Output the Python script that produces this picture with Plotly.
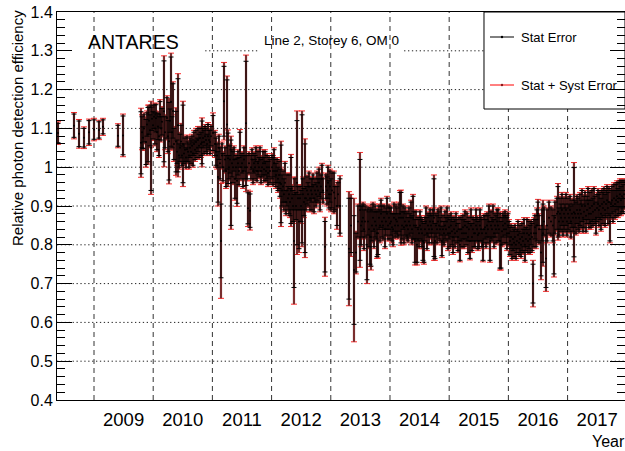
import plotly.graph_objects as go

# ---------------- data (decimal year, relative efficiency, stat error, stat+syst error) -------------
YR_A = [2008.392, 2008.662, 2008.747, 2008.831, 2008.916, 2009.000, 2009.084, 2009.152, 2009.405, 2009.490]
EFF_A = [1.088, 1.107, 1.086, 1.076, 1.090, 1.097, 1.096, 1.104, 1.081, 1.082]
STAT_A = [0.025, 0.030, 0.033, 0.024, 0.030, 0.025, 0.021, 0.018, 0.027, 0.050]
TOT_A = [0.029, 0.034, 0.037, 0.028, 0.034, 0.029, 0.025, 0.022, 0.031, 0.055]

YR_B = [2009.794, 2009.811, 2009.828, 2009.845, 2009.878, 2009.895, 2009.912, 2009.929, 2009.946, 2009.963,
        2009.980, 2009.997, 2010.014, 2010.031, 2010.047, 2010.064, 2010.081, 2010.098, 2010.115, 2010.132,
        2010.149, 2010.182, 2010.199, 2010.233, 2010.250, 2010.267, 2010.284, 2010.301, 2010.318, 2010.334,
        2010.351, 2010.385, 2010.402, 2010.419, 2010.436, 2010.453, 2010.470, 2010.486, 2010.503, 2010.520,
        2010.537, 2010.554, 2010.571, 2010.588, 2010.605, 2010.622, 2010.639, 2010.656, 2010.672, 2010.689,
        2010.706, 2010.723, 2010.740, 2010.757, 2010.774, 2010.791, 2010.808, 2010.824, 2010.841, 2010.858,
        2010.875, 2010.892, 2010.909, 2010.926, 2010.943, 2010.959, 2010.976, 2011.010]
EFF_B = [1.063, 1.090, 1.076, 1.100, 1.065, 1.110, 1.084, 1.120, 1.095, 1.050,
         1.125, 1.108, 1.130, 1.100, 1.126, 1.090, 1.105, 1.080, 1.135, 1.100,
         1.117, 1.144, 1.090, 1.127, 1.080, 1.067, 1.120, 1.169, 1.090, 1.145,
         1.060, 1.066, 1.040, 1.108, 1.030, 1.050, 1.066, 1.030, 1.060, 1.035,
         1.045, 1.025, 1.046, 1.040, 1.030, 1.050, 1.040, 1.055, 1.035, 1.060,
         1.045, 1.065, 1.050, 1.070, 1.055, 1.075, 1.060, 1.064, 1.075, 1.065,
         1.080, 1.070, 1.060, 1.080, 1.070, 1.065, 1.080, 1.088]
STAT_B = [0.080, 0.040, 0.028, 0.035, 0.058, 0.030, 0.070, 0.035, 0.040, 0.110,
          0.030, 0.035, 0.030, 0.040, 0.035, 0.045, 0.034, 0.050, 0.034, 0.030,
          0.034, 0.130, 0.040, 0.052, 0.040, 0.100, 0.030, 0.115, 0.040, 0.070,
          0.040, 0.078, 0.030, 0.120, 0.030, 0.035, 0.042, 0.025, 0.100, 0.025,
          0.030, 0.025, 0.032, 0.025, 0.030, 0.025, 0.030, 0.025, 0.030, 0.030,
          0.025, 0.030, 0.025, 0.030, 0.030, 0.025, 0.030, 0.055, 0.025, 0.030,
          0.025, 0.030, 0.025, 0.030, 0.025, 0.030, 0.025, 0.045]
TOT_B = [0.089, 0.045, 0.033, 0.040, 0.065, 0.035, 0.076, 0.040, 0.045, 0.120,
         0.035, 0.039, 0.035, 0.045, 0.039, 0.050, 0.039, 0.055, 0.039, 0.035,
         0.039, 0.143, 0.045, 0.057, 0.045, 0.110, 0.035, 0.125, 0.045, 0.075,
         0.045, 0.087, 0.035, 0.133, 0.035, 0.040, 0.047, 0.030, 0.110, 0.030,
         0.035, 0.030, 0.037, 0.030, 0.035, 0.030, 0.035, 0.030, 0.035, 0.035,
         0.030, 0.035, 0.030, 0.035, 0.035, 0.030, 0.035, 0.063, 0.030, 0.035,
         0.030, 0.035, 0.030, 0.035, 0.030, 0.035, 0.030, 0.052]

YR_C = [2011.044, 2011.061, 2011.078, 2011.095, 2011.111, 2011.128, 2011.145, 2011.162, 2011.179, 2011.196,
        2011.213, 2011.230, 2011.247, 2011.264, 2011.280, 2011.297, 2011.314, 2011.331, 2011.348, 2011.365,
        2011.382, 2011.399, 2011.416, 2011.432, 2011.449, 2011.466, 2011.483, 2011.500, 2011.517, 2011.534,
        2011.551, 2011.568, 2011.584, 2011.601, 2011.618, 2011.635, 2011.652, 2011.669, 2011.686, 2011.703,
        2011.720, 2011.736, 2011.753, 2011.770, 2011.787, 2011.804, 2011.821, 2011.838, 2011.855, 2011.872,
        2011.889, 2011.905, 2011.922, 2011.939, 2011.956, 2011.973]
EFF_C = [1.060, 1.040, 1.030, 0.975, 1.050, 1.010, 0.810, 1.030, 1.000, 1.170,
         1.020, 0.990, 1.110, 1.023, 1.000, 1.020, 0.960, 1.010, 1.000, 1.020,
         0.970, 1.000, 0.965, 1.010, 0.990, 1.045, 1.000, 1.010, 0.990, 1.020,
         1.000, 1.113, 1.000, 0.894, 1.010, 0.888, 1.000, 1.020, 0.990, 1.010,
         1.000, 1.020, 0.990, 1.010, 1.000, 1.020, 0.990, 1.000, 1.010, 0.995,
         1.010, 0.990, 1.000, 0.985, 1.000, 0.990]
STAT_C = [0.030, 0.035, 0.030, 0.065, 0.030, 0.040, 0.095, 0.030, 0.035, 0.090,
          0.030, 0.040, 0.115, 0.065, 0.030, 0.035, 0.110, 0.035, 0.040, 0.030,
          0.050, 0.030, 0.058, 0.030, 0.035, 0.045, 0.030, 0.025, 0.040, 0.030,
          0.030, 0.160, 0.030, 0.040, 0.025, 0.043, 0.030, 0.025, 0.030, 0.025,
          0.030, 0.030, 0.025, 0.030, 0.025, 0.030, 0.030, 0.025, 0.030, 0.030,
          0.030, 0.025, 0.030, 0.030, 0.025, 0.030]
TOT_C = [0.035, 0.040, 0.035, 0.075, 0.035, 0.045, 0.148, 0.035, 0.040, 0.100,
         0.035, 0.045, 0.125, 0.073, 0.035, 0.040, 0.120, 0.040, 0.045, 0.035,
         0.055, 0.035, 0.066, 0.035, 0.040, 0.052, 0.035, 0.030, 0.045, 0.035,
         0.035, 0.176, 0.035, 0.047, 0.030, 0.050, 0.035, 0.030, 0.035, 0.030,
         0.035, 0.035, 0.030, 0.035, 0.030, 0.035, 0.035, 0.030, 0.035, 0.035,
         0.035, 0.030, 0.035, 0.035, 0.030, 0.035]

YR_D = [2012.007, 2012.024, 2012.041, 2012.058, 2012.074, 2012.091, 2012.108, 2012.125, 2012.142, 2012.159,
        2012.176, 2012.193, 2012.209, 2012.226, 2012.243, 2012.260, 2012.277, 2012.294, 2012.311, 2012.328,
        2012.345, 2012.362, 2012.378, 2012.395, 2012.412, 2012.429, 2012.446, 2012.463, 2012.480, 2012.497,
        2012.514, 2012.530, 2012.547, 2012.564, 2012.581, 2012.598, 2012.615, 2012.632, 2012.649, 2012.666,
        2012.682, 2012.699, 2012.716, 2012.733, 2012.750, 2012.767, 2012.784, 2012.801, 2012.818, 2012.834,
        2012.851, 2012.868, 2012.902, 2012.919, 2012.936, 2012.953, 2012.970, 2012.986, 2013.003, 2013.020,
        2013.054, 2013.071, 2013.105, 2013.122, 2013.155]
EFF_D = [1.000, 0.990, 1.010, 0.990, 0.980, 0.990, 0.970, 0.980, 0.960, 0.957,
         0.940, 0.950, 0.930, 0.960, 0.910, 0.940, 0.920, 0.930, 0.910, 0.940,
         0.920, 0.900, 0.810, 0.930, 0.900, 0.960, 0.920, 0.860, 0.920, 0.900,
         0.970, 0.930, 0.910, 0.920, 0.920, 0.940, 0.930, 0.950, 0.920, 0.940,
         0.930, 0.950, 0.920, 0.940, 0.930, 0.950, 0.940, 0.960, 0.930, 0.950,
         0.970, 0.940, 0.795, 0.950, 0.940, 0.960, 0.930, 0.950, 0.930, 0.940,
         0.935, 0.920, 0.900, 0.930, 0.900]
STAT_D = [0.030, 0.035, 0.035, 0.030, 0.030, 0.030, 0.030, 0.035, 0.035, 0.100,
          0.040, 0.040, 0.040, 0.050, 0.030, 0.040, 0.030, 0.050, 0.035, 0.085,
          0.030, 0.040, 0.120, 0.040, 0.035, 0.160, 0.030, 0.070, 0.030, 0.040,
          0.165, 0.040, 0.035, 0.140, 0.030, 0.035, 0.030, 0.035, 0.030, 0.030,
          0.040, 0.030, 0.035, 0.030, 0.030, 0.035, 0.030, 0.035, 0.040, 0.030,
          0.035, 0.030, 0.065, 0.030, 0.035, 0.040, 0.035, 0.040, 0.040, 0.045,
          0.050, 0.030, 0.050, 0.030, 0.070]
TOT_D = [0.035, 0.040, 0.040, 0.035, 0.035, 0.035, 0.035, 0.040, 0.040, 0.110,
         0.045, 0.045, 0.045, 0.055, 0.035, 0.045, 0.035, 0.055, 0.040, 0.093,
         0.035, 0.045, 0.163, 0.045, 0.040, 0.185, 0.035, 0.080, 0.035, 0.045,
         0.175, 0.045, 0.040, 0.153, 0.035, 0.040, 0.035, 0.040, 0.035, 0.035,
         0.045, 0.035, 0.040, 0.035, 0.035, 0.040, 0.035, 0.040, 0.045, 0.035,
         0.040, 0.035, 0.076, 0.035, 0.040, 0.045, 0.040, 0.045, 0.045, 0.050,
         0.055, 0.035, 0.060, 0.035, 0.078]

YR_E = [2013.307, 2013.341, 2013.392, 2013.426, 2013.459, 2013.493, 2013.510, 2013.527, 2013.544, 2013.561,
        2013.578, 2013.611, 2013.628, 2013.645, 2013.662, 2013.679, 2013.696, 2013.713, 2013.730, 2013.747,
        2013.764, 2013.780, 2013.797, 2013.814, 2013.831, 2013.848, 2013.865, 2013.882, 2013.899, 2013.916,
        2013.932, 2013.949, 2013.966, 2013.983, 2014.000, 2014.017, 2014.034, 2014.051, 2014.068, 2014.085,
        2014.101, 2014.118, 2014.135, 2014.152, 2014.169, 2014.186, 2014.203, 2014.220, 2014.236, 2014.253,
        2014.270, 2014.287, 2014.304, 2014.321, 2014.338, 2014.355, 2014.372, 2014.389, 2014.405, 2014.422,
        2014.439, 2014.456, 2014.473, 2014.490, 2014.507, 2014.524, 2014.541, 2014.557, 2014.574, 2014.591,
        2014.608, 2014.625, 2014.642, 2014.659, 2014.676, 2014.693, 2014.709, 2014.726, 2014.743, 2014.760,
        2014.777, 2014.794, 2014.811, 2014.828, 2014.845, 2014.862, 2014.878]
EFF_E = [0.790, 0.850, 0.735, 0.780, 0.860, 0.890, 0.850, 0.860, 0.870, 0.840,
         0.860, 0.800, 0.860, 0.840, 0.820, 0.820, 0.850, 0.870, 0.840, 0.860,
         0.850, 0.830, 0.830, 0.870, 0.850, 0.880, 0.860, 0.850, 0.870, 0.840,
         0.860, 0.880, 0.850, 0.870, 0.855, 0.860, 0.845, 0.840, 0.870, 0.850,
         0.865, 0.860, 0.850, 0.870, 0.880, 0.870, 0.850, 0.870, 0.845, 0.860,
         0.850, 0.850, 0.840, 0.860, 0.850, 0.870, 0.840, 0.870, 0.850, 0.810,
         0.850, 0.800, 0.840, 0.830, 0.850, 0.840, 0.830, 0.810, 0.805, 0.840,
         0.860, 0.830, 0.850, 0.840, 0.860, 0.850, 0.840, 0.860, 0.870, 0.810,
         0.850, 0.840, 0.860, 0.850, 0.840, 0.860, 0.810]
STAT_E = [0.130, 0.070, 0.140, 0.050, 0.040, 0.130, 0.050, 0.040, 0.035, 0.050,
          0.040, 0.090, 0.035, 0.045, 0.070, 0.075, 0.040, 0.035, 0.045, 0.040,
          0.035, 0.060, 0.055, 0.030, 0.040, 0.035, 0.040, 0.035, 0.030, 0.045,
          0.035, 0.040, 0.035, 0.030, 0.040, 0.035, 0.035, 0.040, 0.035, 0.030,
          0.035, 0.035, 0.030, 0.035, 0.055, 0.065, 0.035, 0.030, 0.040, 0.035,
          0.030, 0.035, 0.030, 0.035, 0.030, 0.040, 0.035, 0.055, 0.035, 0.055,
          0.035, 0.045, 0.030, 0.035, 0.035, 0.030, 0.035, 0.050, 0.050, 0.030,
          0.035, 0.040, 0.030, 0.035, 0.030, 0.030, 0.035, 0.030, 0.100, 0.045,
          0.030, 0.035, 0.030, 0.035, 0.030, 0.035, 0.038]
TOT_E = [0.147, 0.080, 0.185, 0.055, 0.045, 0.148, 0.055, 0.045, 0.040, 0.055,
         0.045, 0.100, 0.040, 0.050, 0.076, 0.085, 0.045, 0.040, 0.050, 0.045,
         0.040, 0.065, 0.064, 0.035, 0.045, 0.040, 0.045, 0.040, 0.035, 0.050,
         0.040, 0.045, 0.040, 0.035, 0.045, 0.040, 0.040, 0.045, 0.040, 0.035,
         0.040, 0.040, 0.035, 0.040, 0.060, 0.071, 0.040, 0.035, 0.045, 0.040,
         0.035, 0.040, 0.035, 0.040, 0.035, 0.045, 0.040, 0.060, 0.040, 0.062,
         0.040, 0.052, 0.035, 0.040, 0.040, 0.035, 0.040, 0.056, 0.055, 0.035,
         0.040, 0.045, 0.035, 0.040, 0.035, 0.035, 0.040, 0.035, 0.110, 0.050,
         0.035, 0.040, 0.035, 0.040, 0.035, 0.040, 0.043]

YR_F = [2014.895, 2014.912, 2014.929, 2014.946, 2014.963, 2014.980, 2014.997, 2015.014, 2015.030, 2015.047,
        2015.064, 2015.081, 2015.098, 2015.115, 2015.132, 2015.149, 2015.166, 2015.182, 2015.199, 2015.216,
        2015.233, 2015.250, 2015.267, 2015.284, 2015.301, 2015.318, 2015.334, 2015.351, 2015.368, 2015.385,
        2015.402, 2015.419, 2015.436, 2015.453, 2015.470, 2015.486, 2015.503, 2015.520, 2015.537, 2015.554,
        2015.571, 2015.588, 2015.605, 2015.622, 2015.639, 2015.655, 2015.672, 2015.689, 2015.706, 2015.723,
        2015.740, 2015.757, 2015.774, 2015.791, 2015.808, 2015.824, 2015.841, 2015.858, 2015.875, 2015.892,
        2015.909, 2015.926, 2015.943, 2015.960, 2015.976, 2015.993]
EFF_F = [0.840, 0.830, 0.850, 0.840, 0.860, 0.830, 0.845, 0.830, 0.850, 0.835,
         0.820, 0.840, 0.830, 0.850, 0.835, 0.820, 0.840, 0.800, 0.840, 0.830,
         0.845, 0.830, 0.850, 0.830, 0.845, 0.820, 0.840, 0.810, 0.850, 0.820,
         0.840, 0.830, 0.830, 0.850, 0.840, 0.825, 0.830, 0.850, 0.840, 0.830,
         0.800, 0.840, 0.845, 0.830, 0.850, 0.840, 0.860, 0.810, 0.850, 0.840,
         0.860, 0.830, 0.850, 0.840, 0.860, 0.850, 0.840, 0.810, 0.800, 0.835,
         0.850, 0.840, 0.855, 0.840, 0.830, 0.850]
STAT_F = [0.035, 0.030, 0.035, 0.030, 0.035, 0.040, 0.030, 0.035, 0.030, 0.035,
          0.040, 0.030, 0.035, 0.030, 0.030, 0.035, 0.030, 0.040, 0.030, 0.035,
          0.030, 0.035, 0.035, 0.030, 0.035, 0.040, 0.030, 0.045, 0.040, 0.035,
          0.030, 0.035, 0.035, 0.040, 0.030, 0.035, 0.035, 0.040, 0.030, 0.035,
          0.040, 0.035, 0.030, 0.035, 0.030, 0.035, 0.040, 0.050, 0.035, 0.030,
          0.040, 0.035, 0.030, 0.035, 0.030, 0.040, 0.030, 0.070, 0.060, 0.035,
          0.030, 0.035, 0.030, 0.035, 0.040, 0.030]
TOT_F = [0.040, 0.035, 0.040, 0.035, 0.040, 0.045, 0.035, 0.040, 0.035, 0.040,
         0.045, 0.035, 0.040, 0.035, 0.035, 0.040, 0.035, 0.044, 0.035, 0.040,
         0.035, 0.040, 0.040, 0.035, 0.040, 0.045, 0.035, 0.049, 0.045, 0.040,
         0.035, 0.040, 0.040, 0.045, 0.035, 0.040, 0.040, 0.045, 0.035, 0.040,
         0.044, 0.040, 0.035, 0.040, 0.035, 0.040, 0.045, 0.055, 0.040, 0.035,
         0.045, 0.040, 0.035, 0.040, 0.035, 0.045, 0.035, 0.075, 0.065, 0.040,
         0.035, 0.040, 0.035, 0.040, 0.045, 0.035]

YR_G = [2016.010, 2016.027, 2016.044, 2016.061, 2016.078, 2016.095, 2016.111, 2016.128, 2016.145, 2016.162,
        2016.179, 2016.196, 2016.213, 2016.230, 2016.247, 2016.264, 2016.280, 2016.297, 2016.314, 2016.331,
        2016.348, 2016.365, 2016.382, 2016.399, 2016.416, 2016.432, 2016.449, 2016.466, 2016.483, 2016.500,
        2016.517, 2016.551, 2016.568, 2016.584, 2016.601, 2016.635, 2016.652, 2016.686, 2016.720, 2016.753,
        2016.770, 2016.787, 2016.821, 2016.838, 2016.855, 2016.872, 2016.889, 2016.905, 2016.922, 2016.939,
        2016.956, 2016.973, 2016.990, 2017.007, 2017.024, 2017.041, 2017.057, 2017.074, 2017.091, 2017.108,
        2017.125, 2017.142, 2017.159, 2017.176, 2017.193, 2017.209, 2017.226, 2017.243, 2017.260, 2017.277,
        2017.294, 2017.311, 2017.328, 2017.345, 2017.361, 2017.378, 2017.395, 2017.412, 2017.429, 2017.446,
        2017.463, 2017.480, 2017.497, 2017.514, 2017.530, 2017.547, 2017.564, 2017.581, 2017.598, 2017.615,
        2017.632, 2017.649, 2017.666, 2017.682, 2017.699, 2017.716, 2017.733, 2017.750, 2017.767, 2017.784,
        2017.801, 2017.818, 2017.834, 2017.851, 2017.868, 2017.885, 2017.902, 2017.919, 2017.936, 2017.953]
EFF_G = [0.830, 0.810, 0.820, 0.800, 0.815, 0.805, 0.820, 0.800, 0.810, 0.825,
         0.805, 0.815, 0.800, 0.820, 0.810, 0.830, 0.800, 0.815, 0.830, 0.810,
         0.825, 0.815, 0.830, 0.820, 0.700, 0.830, 0.845, 0.830, 0.850, 0.880,
         0.840, 0.780, 0.850, 0.830, 0.860, 0.765, 0.850, 0.870, 0.860, 0.850,
         0.800, 0.870, 0.880, 0.885, 0.860, 0.880, 0.870, 0.890, 0.860, 0.880,
         0.870, 0.890, 0.860, 0.880, 0.870, 0.890, 0.860, 0.880, 0.870, 0.884,
         0.880, 0.870, 0.890, 0.880, 0.870, 0.890, 0.880, 0.900, 0.870, 0.885,
         0.900, 0.875, 0.890, 0.905, 0.880, 0.895, 0.880, 0.900, 0.885, 0.905,
         0.890, 0.870, 0.895, 0.905, 0.890, 0.900, 0.880, 0.905, 0.895, 0.910,
         0.890, 0.905, 0.915, 0.895, 0.910, 0.860, 0.905, 0.915, 0.900, 0.920,
         0.905, 0.915, 0.925, 0.910, 0.920, 0.930, 0.915, 0.925, 0.920, 0.930]
STAT_G = [0.030, 0.035, 0.030, 0.035, 0.030, 0.035, 0.030, 0.035, 0.030, 0.035,
          0.030, 0.035, 0.030, 0.035, 0.030, 0.035, 0.040, 0.030, 0.035, 0.030,
          0.035, 0.035, 0.030, 0.035, 0.050, 0.035, 0.030, 0.035, 0.040, 0.030,
          0.035, 0.060, 0.040, 0.075, 0.035, 0.075, 0.040, 0.040, 0.035, 0.040,
          0.075, 0.040, 0.040, 0.065, 0.035, 0.040, 0.035, 0.040, 0.035, 0.040,
          0.035, 0.040, 0.035, 0.040, 0.035, 0.035, 0.040, 0.035, 0.035, 0.115,
          0.035, 0.040, 0.035, 0.040, 0.035, 0.040, 0.035, 0.040, 0.035, 0.040,
          0.035, 0.040, 0.035, 0.040, 0.035, 0.040, 0.035, 0.040, 0.035, 0.040,
          0.035, 0.040, 0.035, 0.035, 0.040, 0.035, 0.040, 0.035, 0.040, 0.035,
          0.040, 0.035, 0.035, 0.040, 0.035, 0.050, 0.035, 0.035, 0.040, 0.035,
          0.035, 0.040, 0.035, 0.035, 0.040, 0.035, 0.035, 0.040, 0.035, 0.035]
TOT_G = [0.035, 0.040, 0.035, 0.040, 0.035, 0.040, 0.035, 0.040, 0.035, 0.040,
         0.035, 0.040, 0.035, 0.040, 0.035, 0.040, 0.045, 0.035, 0.040, 0.035,
         0.040, 0.040, 0.035, 0.040, 0.060, 0.040, 0.035, 0.040, 0.045, 0.037,
         0.040, 0.070, 0.045, 0.085, 0.040, 0.085, 0.045, 0.045, 0.040, 0.045,
         0.083, 0.045, 0.045, 0.073, 0.040, 0.045, 0.040, 0.045, 0.040, 0.045,
         0.040, 0.045, 0.040, 0.045, 0.040, 0.040, 0.045, 0.040, 0.040, 0.128,
         0.040, 0.045, 0.040, 0.045, 0.040, 0.045, 0.040, 0.045, 0.040, 0.045,
         0.040, 0.045, 0.040, 0.045, 0.040, 0.045, 0.040, 0.045, 0.040, 0.045,
         0.040, 0.045, 0.040, 0.040, 0.045, 0.040, 0.045, 0.040, 0.045, 0.040,
         0.045, 0.040, 0.040, 0.045, 0.040, 0.055, 0.040, 0.040, 0.045, 0.040,
         0.040, 0.045, 0.040, 0.040, 0.045, 0.040, 0.040, 0.045, 0.040, 0.040]

YEAR_LABELS = ["2009", "2010", "2011", "2012", "2013", "2014", "2015", "2016", "2017"]
YEAR_STARTS = [2009, 2010, 2011, 2012, 2013, 2014, 2015, 2016, 2017]
GRID_LEVELS = [0.5, 0.6, 0.7, 0.8, 0.9, 1.0, 1.1, 1.2, 1.3]

years = YR_A + YR_B + YR_C + YR_D + YR_E + YR_F + YR_G
eff = EFF_A + EFF_B + EFF_C + EFF_D + EFF_E + EFF_F + EFF_G
stat = STAT_A + STAT_B + STAT_C + STAT_D + STAT_E + STAT_F + STAT_G
tot = TOT_A + TOT_B + TOT_C + TOT_D + TOT_E + TOT_F + TOT_G
assert len(years) == len(eff) == len(stat) == len(tot)

FONT = "Liberation Sans, Arial, Helvetica, sans-serif"
X_RANGE = [2008.375, 2017.97]
Y_RANGE = [0.4, 1.4]

fig = go.Figure()
# red caps of stat+syst error bars
fig.add_trace(go.Scatter(
    x=years, y=eff, mode="markers", marker=dict(size=1, color="rgba(0,0,0,0)"),
    error_y=dict(type="data", array=tot, color="#ff2a2a", thickness=1, width=3),
    showlegend=False, hoverinfo="skip"))
# brownish body of the stat+syst error bars
fig.add_trace(go.Scatter(
    x=years, y=eff, mode="markers", marker=dict(size=1, color="rgba(0,0,0,0)"),
    error_y=dict(type="data", array=tot, color="rgb(122,46,46)", thickness=2.2, width=0),
    showlegend=False, hoverinfo="skip"))
# black stat error bars with points
fig.add_trace(go.Scatter(
    x=years, y=eff, mode="markers", marker=dict(size=2, color="black"),
    error_y=dict(type="data", array=stat, color="black", thickness=1, width=2.5),
    showlegend=False, hoverinfo="skip"))

shapes = []
# dotted horizontal grid
for lv in GRID_LEVELS:
    shapes.append(dict(type="line", xref="x", yref="y", x0=X_RANGE[0], x1=X_RANGE[1], y0=lv, y1=lv,
                       line=dict(color="#222222", width=1, dash="1.3px,2.6px"), layer="below"))
# white boxes behind the texts (they hide the horizontal grid)
shapes.append(dict(type="rect", xref="x", yref="y", x0=X_RANGE[0], x1=2010.875, y0=1.27, y1=1.4,
                   fillcolor="white", line=dict(width=0), layer="below"))
shapes.append(dict(type="rect", xref="x", yref="y", x0=2011.77, x1=2014.22, y0=1.27, y1=1.4,
                   fillcolor="white", line=dict(width=0), layer="below"))
# dashed year separators
for yr in YEAR_STARTS:
    shapes.append(dict(type="line", xref="x", yref="y", x0=yr, x1=yr, y0=Y_RANGE[0], y1=Y_RANGE[1],
                       line=dict(color="#333333", width=1, dash="5px,4px"), layer="below"))
# legend box
shapes.append(dict(type="rect", xref="x", yref="y", x0=2015.588, x1=X_RANGE[1], y0=1.15, y1=1.4,
                   fillcolor="white", line=dict(color="black", width=1), layer="below"))


def px2x(px):
    return (px - 57) / 568.0


def py2y(py):
    return (400 - py) / 388.0


# legend samples
shapes.append(dict(type="line", xref="paper", yref="paper", x0=px2x(490), x1=px2x(514),
                   y0=py2y(37), y1=py2y(37), line=dict(color="black", width=1), layer="above"))
shapes.append(dict(type="line", xref="paper", yref="paper", x0=px2x(490), x1=px2x(514),
                   y0=py2y(85), y1=py2y(85), line=dict(color="red", width=1), layer="above"))
for pyv, col in [(37, "black"), (85, "#8b1a1a")]:
    shapes.append(dict(type="circle", xref="paper", yref="paper", xsizemode="pixel", ysizemode="pixel",
                       xanchor=px2x(502), yanchor=py2y(pyv), x0=-1.2, x1=1.2, y0=-1.2, y1=1.2,
                       fillcolor=col, line=dict(width=0), layer="above"))

annotations = [
    dict(text="ANTARES", x=px2x(133), y=py2y(42), xref="paper", yref="paper", showarrow=False,
         xanchor="center", yanchor="middle", font=dict(family=FONT, size=19.5, color="black")),
    dict(text="Line 2, Storey 6, OM 0", x=px2x(331), y=py2y(41), xref="paper", yref="paper", showarrow=False,
         xanchor="center", yanchor="middle", font=dict(family=FONT, size=13.5, color="black")),
    dict(text="Stat Error", x=px2x(519), y=py2y(37), xref="paper", yref="paper", showarrow=False,
         xanchor="left", yanchor="middle", font=dict(family=FONT, size=13, color="black")),
    dict(text="Stat + Syst Error", x=px2x(519), y=py2y(85), xref="paper", yref="paper", showarrow=False,
         xanchor="left", yanchor="middle", font=dict(family=FONT, size=13, color="black")),
    dict(text="Year", x=px2x(627), y=py2y(441), xref="paper", yref="paper", showarrow=False,
         xanchor="right", yanchor="middle", font=dict(family=FONT, size=16, color="black")),
    dict(text="Relative photon detection efficiency", x=px2x(17), y=py2y(8), xref="paper", yref="paper",
         showarrow=False, textangle=-90, xanchor="center", yanchor="top",
         font=dict(family=FONT, size=15, color="black")),
]

fig.update_layout(
    width=625, height=451,
    margin=dict(l=57, r=0, t=12, b=51, pad=0, autoexpand=False),
    paper_bgcolor="white", plot_bgcolor="white",
    showlegend=False,
    font=dict(family=FONT, color="black"),
    shapes=shapes, annotations=annotations,
    xaxis=dict(range=X_RANGE, tickmode="array", tickvals=[y + 0.5 for y in YEAR_STARTS], ticktext=YEAR_LABELS,
               ticks="", showgrid=False, zeroline=False, showline=True, linecolor="black", linewidth=1,
               mirror=True, tickfont=dict(family=FONT, size=18.5, color="black"), ticklabelstandoff=3,
               automargin=False),
    yaxis=dict(range=Y_RANGE, tickmode="linear", tick0=0.4, dtick=0.1, ticks="inside", ticklen=15,
               tickwidth=1, tickcolor="black",
               minor=dict(tick0=0.4, dtick=0.02, ticks="inside", ticklen=8, tickwidth=1, tickcolor="black",
                          showgrid=False),
               showgrid=False, zeroline=False, showline=True, linecolor="black", linewidth=1,
               mirror="allticks", tickfont=dict(family=FONT, size=16, color="black"), automargin=False),
)

fig.write_html("out.html", config={"displayModeBar": False},
               post_script="document.body.style.margin='0';document.body.style.overflow='hidden';")
